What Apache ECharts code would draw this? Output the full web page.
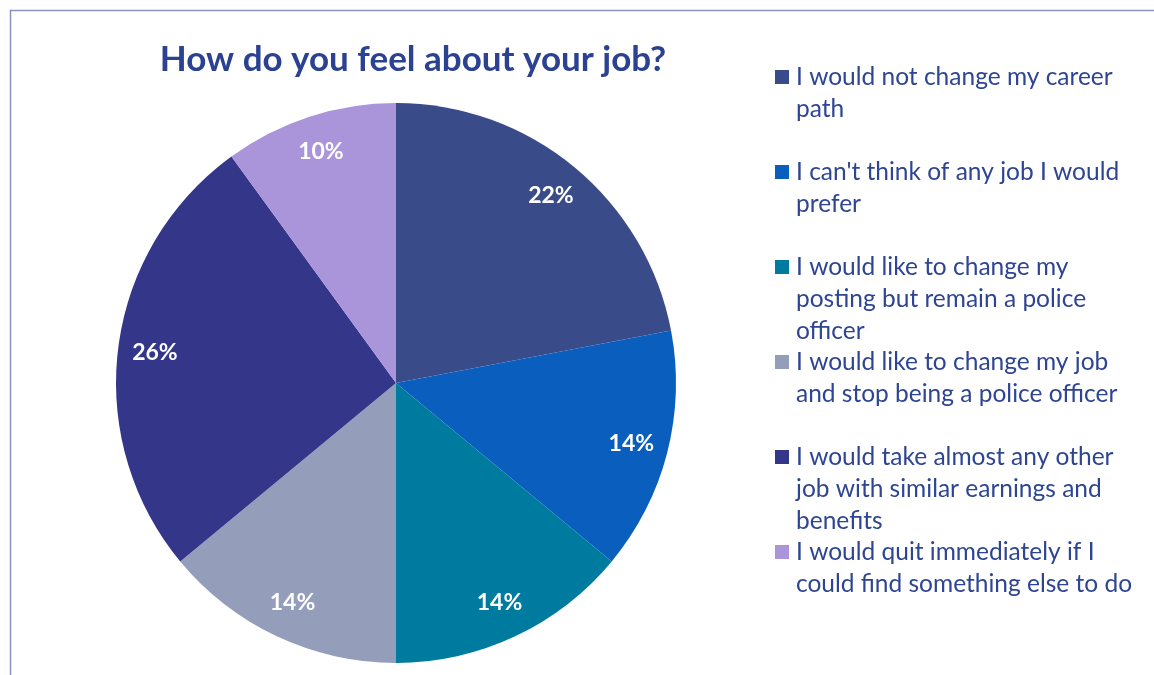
<!DOCTYPE html>
<html>
<head>
<meta charset="utf-8">
<title>How do you feel about your job?</title>
<script src="https://cdn.jsdelivr.net/npm/echarts@6/dist/echarts.min.js"></script>
<style>
  html, body { margin: 0; padding: 0; background: #ffffff; }
  #chart { width: 1154px; height: 675px; }
</style>
</head>
<body>
<div id="chart"></div>
<script>
// Survey answers, in the order they run clockwise from twelve o'clock
const categories = [
  "I would not change my career path",
  "I can't think of any job I would prefer",
  "I would like to change my posting but remain a police officer",
  "I would like to change my job and stop being a police officer",
  "I would take almost any other job with similar earnings and benefits",
  "I would quit immediately if I could find something else to do"
];
// Share of respondents, percent
const shares = [22, 14, 14, 14, 26, 10];
// Legend wording, broken into lines
const legendLines = [
  ["I would not change my career", "path"],
  ["I can't think of any job I would", "prefer"],
  ["I would like to change my", "posting but remain a police", "officer"],
  ["I would like to change my job", "and stop being a police officer"],
  ["I would take almost any other", "job with similar earnings and", "benefits"],
  ["I would quit immediately if I", "could find something else to do"]
];
const sliceColors = ["#3A4B8A", "#0A5EBE", "#007BA0", "#949EBB", "#343689", "#AA94DA"];

const FONT = "Lato, 'Noto Sans', sans-serif";
const TEXT_BLUE = "#2D4592";
const LINE_H = 32;

const pieData = categories.map((name, i) => ({
  name: name,
  value: shares[i],
  itemStyle: { color: sliceColors[i] }
}));

// One legend block per answer. Blank lines above the text keep the
// vertically centred block's first real line level with the icon.
const legends = categories.map((name, i) => {
  const n = legendLines[i].length;
  const firstLineCenter = 77 + i * 95;
  const blockH = (2 * n - 1) * LINE_H;
  const text = '\n'.repeat(n - 1) + legendLines[i].join('\n');
  return {
    orient: 'vertical',
    left: 775,
    top: firstLineCenter - blockH / 2,
    padding: 0,
    itemWidth: 14,
    itemHeight: 14,
    itemGap: 0,
    icon: 'rect',
    selectedMode: false,
    data: [name],
    formatter: () => text,
    textStyle: {
      fontFamily: FONT,
      fontSize: 24.5,
      color: TEXT_BLUE,
      lineHeight: LINE_H,
      padding: [0, 0, 0, 2]
    }
  };
});

const chart = echarts.init(document.getElementById('chart'), null, { renderer: 'canvas' });
chart.setOption({
  animation: false,
  backgroundColor: '#ffffff',
  title: {
    text: 'How do you feel about your job?',
    left: 413,
    top: 60,
    textAlign: 'center',
    textVerticalAlign: 'middle',
    padding: 0,
    textStyle: {
      fontFamily: FONT,
      fontSize: 35,
      fontWeight: 'bold',
      color: '#2B4191'
    }
  },
  legend: legends,
  graphic: [{
    type: 'rect',
    shape: { x: 10.5, y: 10.5, width: 1170, height: 690 },
    style: { fill: 'none', stroke: '#8C92BF', lineWidth: 1.5 },
    silent: true
  }],
  series: [
    {
      type: 'pie',
      center: [396, 383],
      radius: [0, 280],
      startAngle: 90,
      clockwise: true,
      label: { show: false },
      labelLine: { show: false },
      itemStyle: { borderWidth: 0 },
      emphasis: { disabled: true },
      data: pieData
    },
    {
      // transparent ring carrying the percentage labels near the rim
      type: 'pie',
      center: [396, 383],
      radius: [200, 280],
      startAngle: 90,
      clockwise: true,
      silent: true,
      itemStyle: { color: 'rgba(0,0,0,0)', borderWidth: 0 },
      label: {
        show: true,
        position: 'inside',
        formatter: (p) => p.value + '%',
        fontFamily: FONT,
        fontSize: 23,
        fontWeight: 'bold',
        color: '#ffffff'
      },
      labelLine: { show: false },
      emphasis: { disabled: true },
      data: categories.map((name, i) => ({ name: name, value: shares[i] }))
    }
  ]
});
</script>
</body>
</html>
